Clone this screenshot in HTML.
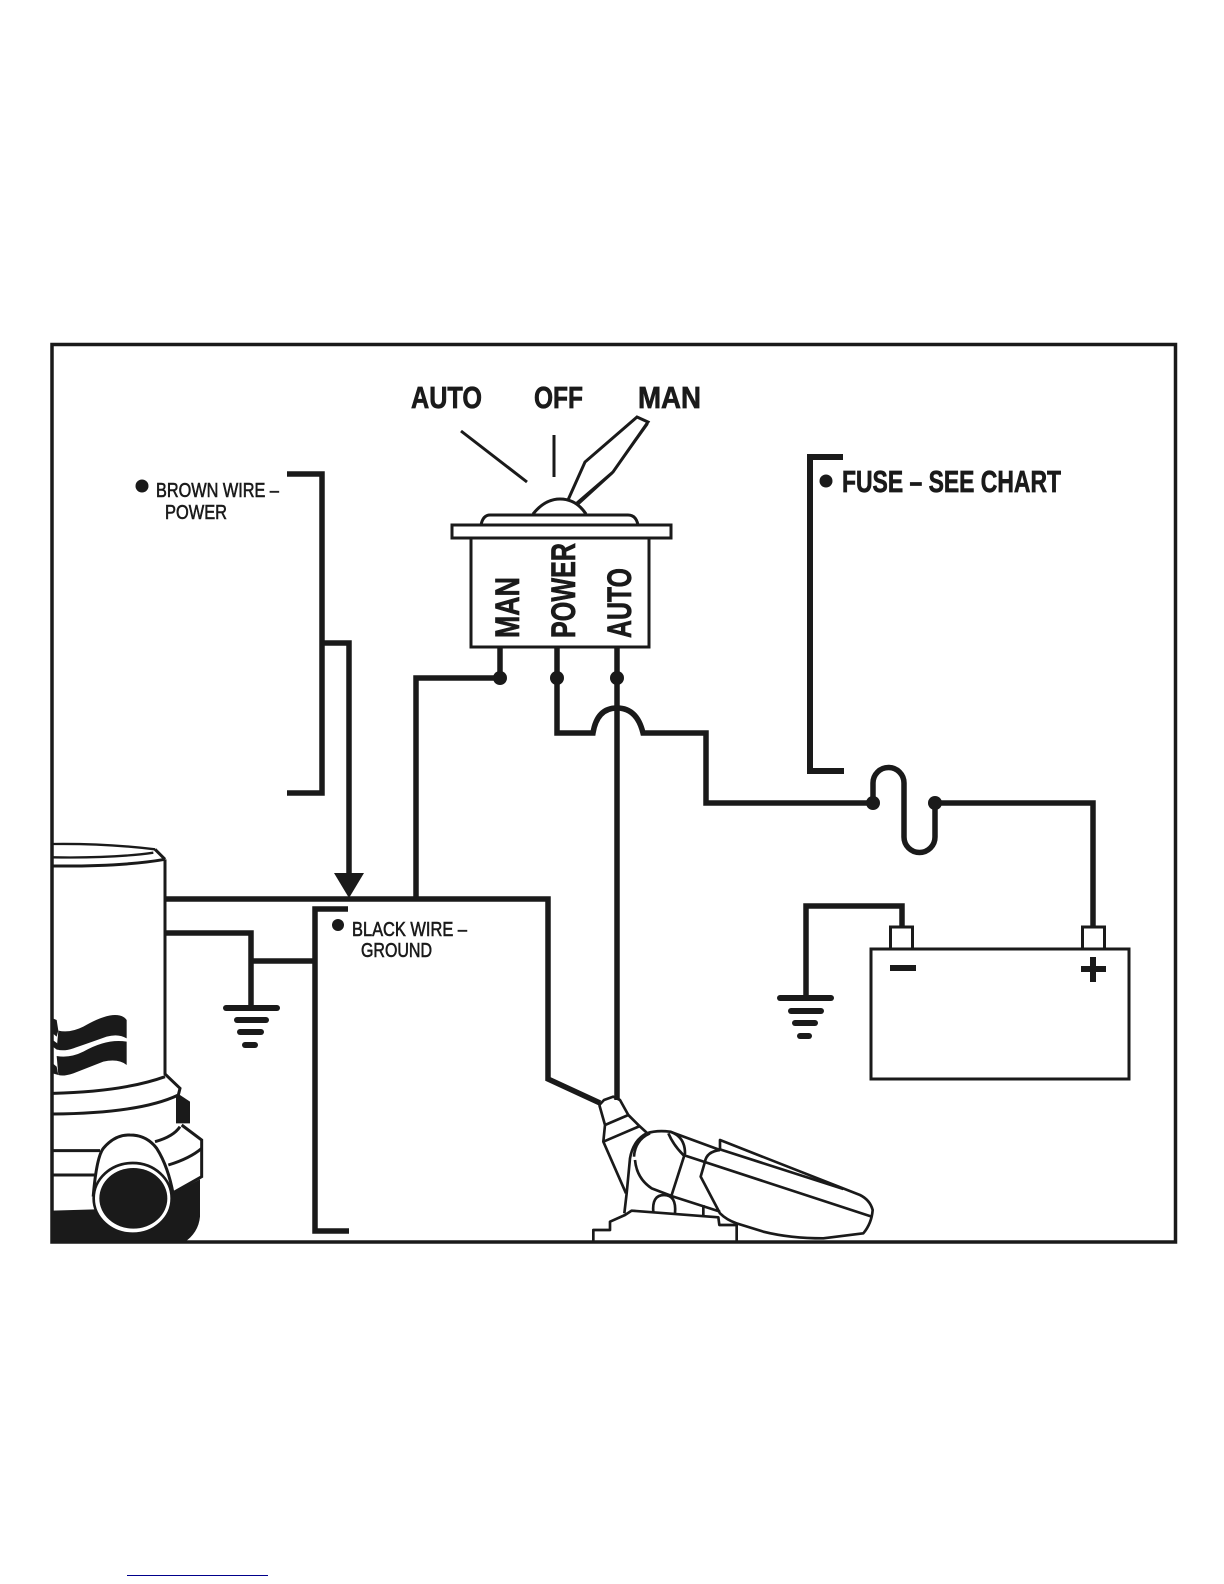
<!DOCTYPE html>
<html><head><meta charset="utf-8"><style>
html,body{margin:0;padding:0;background:#fff}
svg{display:block}
text{font-family:"Liberation Sans",sans-serif;fill:#1a1a1a}
.b{font-weight:bold;font-size:31px;stroke:#1a1a1a;stroke-width:.7}
.s{font-size:20px;stroke:#1a1a1a;stroke-width:.6}
.w{fill:none;stroke:#1a1a1a;stroke-width:5.500}
.t{fill:none;stroke:#1a1a1a;stroke-width:3}
.g{fill:none;stroke:#1a1a1a;stroke-width:6;stroke-linecap:round}
</style></head><body>
<svg width="1224" height="1584" viewBox="0 0 1224 1584" xmlns="http://www.w3.org/2000/svg">
<defs><clipPath id="fr"><rect x="52" y="345" width="1123" height="898"/></clipPath></defs>
<rect width="1224" height="1584" fill="#fff"/>

<!-- pump -->
<g clip-path="url(#fr)"><g transform="translate(40 820) scale(.33333)" fill="none" stroke="#1a1a1a" stroke-width="9">
<path d="M35,1172 L165,1168 L400,1120 L480,1078 L480,1190 Q475,1245 420,1275 L35,1275 Z" fill="#1a1a1a" stroke="none"/>
<path d="M38,72 Q200,70 345,88" stroke-width="7"/>
<path d="M38,112 Q220,115 340,98" stroke-width="7"/>
<path d="M345,88 L375,118"/>
<path d="M38,138 Q250,140 375,118"/>
<path d="M375,118 L375,762 L420,805 L415,825"/>
<path d="M38,820 Q250,815 375,770"/>
<path d="M38,882 Q300,880 415,825"/>
<path d="M408,825 L420,825 L450,845 L450,910 L408,910 Z" fill="#1a1a1a" stroke="none"/>
<path d="M425,915 L485,960 L485,1070 L400,1118"/>
<path d="M345,965 Q400,950 420,920"/>
<path d="M385,1035 Q450,1015 485,985"/>
<path d="M38,992 L180,992"/>
<path d="M38,1065 L165,1065"/>
<path d="M160,1125 Q170,1010 190,985 Q225,943 270,945 Q320,945 350,985 Q385,1040 400,1125 Z" fill="#fff"/>
<ellipse cx="278" cy="1135" rx="117" ry="106" fill="#fff" stroke-width="8"/>
<ellipse cx="280" cy="1135" rx="102" ry="91" fill="#1a1a1a" stroke="none"/>
<g fill="#1a1a1a" stroke="none">
<path d="M55,632 Q90,640 130,620 Q190,585 225,585 Q250,585 260,600 L260,655 Q235,640 200,650 Q130,675 100,685 Q70,695 50,688 Z"/>
<path d="M50,708 Q90,715 130,695 Q200,655 260,665 L260,735 Q235,715 190,725 L100,760 Q70,770 55,765 Z"/>
<path d="M38,595 L50,600 L55,632 L50,650 L38,640 Z"/>
<path d="M38,660 L52,670 L52,690 L38,680 Z"/>
<path d="M38,730 L50,740 L55,765 L38,760 Z"/>
</g>
</g></g>

<!-- frame -->
<rect x="52" y="344.500" width="1123.500" height="897.500" fill="none" stroke="#1a1a1a" stroke-width="3.500"/>

<!-- pump wires / ground -->
<path class="w" d="M165,899 H548 V1079 L600,1103"/>
<path class="w" d="M165,933 H251 V1008"/>
<path class="w" d="M253,961 H315"/>
<path class="g" d="M226,1008 H277"/>
<path class="g" d="M237,1020 H266"/>
<path class="g" d="M240,1032 H261"/>
<path class="g" d="M245,1045 H255"/>

<!-- brackets -->
<path class="w" d="M287,474 H322 V793 H287"/>
<path class="w" d="M322,643 H349 V875"/>
<polygon points="334,873 364,873 349,898" fill="#1a1a1a"/>
<path class="w" d="M348,909 H315 V1231 H349"/>
<path d="M843,457 H810 V771 H844" fill="none" stroke="#1a1a1a" stroke-width="6"/>

<!-- labels -->
<circle cx="142" cy="486" r="6.500" fill="#1a1a1a"/>
<text class="s" x="156" y="497" textLength="123" lengthAdjust="spacingAndGlyphs">BROWN WIRE –</text>
<text class="s" x="165" y="519" textLength="62" lengthAdjust="spacingAndGlyphs">POWER</text>
<circle cx="338" cy="925" r="6" fill="#1a1a1a"/>
<text class="s" x="352" y="936" textLength="115" lengthAdjust="spacingAndGlyphs">BLACK WIRE –</text>
<text class="s" x="361" y="957" textLength="71" lengthAdjust="spacingAndGlyphs">GROUND</text>
<circle cx="826" cy="481" r="6.500" fill="#1a1a1a"/>
<text class="b" x="842" y="492" textLength="219" lengthAdjust="spacingAndGlyphs">FUSE – SEE CHART</text>
<text class="b" x="411" y="408" textLength="71" lengthAdjust="spacingAndGlyphs">AUTO</text>
<text class="b" x="534" y="408" textLength="49" lengthAdjust="spacingAndGlyphs">OFF</text>
<text class="b" x="638" y="408" textLength="63" lengthAdjust="spacingAndGlyphs">MAN</text>

<!-- switch -->
<path class="t" d="M461,431 L527,482"/>
<path class="t" d="M554,435 V477"/>
<path class="t" d="M568,500 L585,462 L637,417 L648,422 L613,472 L577,503"/>
<path d="M648,424 L612,474 L578,505" fill="none" stroke="#1a1a1a" stroke-width="1.500"/>
<path class="t" d="M533,514 Q545,499 560,499 Q576,499 586,514"/>
<path class="t" d="M481,525 Q483,515 490,515 H628 Q636,515 638,525"/>
<rect x="452" y="525" width="219" height="13" fill="#fff" stroke="#1a1a1a" stroke-width="3"/>
<rect x="471" y="538" width="178" height="109" fill="none" stroke="#1a1a1a" stroke-width="3"/>
<text class="b" style="font-size:34px" transform="translate(519 638) rotate(-90)" textLength="61" lengthAdjust="spacingAndGlyphs">MAN</text>
<text class="b" style="font-size:34px" transform="translate(575 638) rotate(-90)" textLength="95" lengthAdjust="spacingAndGlyphs">POWER</text>
<text class="b" style="font-size:34px" transform="translate(631 638) rotate(-90)" textLength="70" lengthAdjust="spacingAndGlyphs">AUTO</text>

<!-- switch wires -->
<path class="w" d="M500,647 V678 H416 V899"/>
<path class="w" d="M617,647 V1100"/>
<path class="w" d="M557,647 V733 H593 Q597,708 617,708 Q637,708 643,733 H706 V803 H873"/>
<circle cx="500" cy="678" r="7" fill="#1a1a1a"/>
<circle cx="557" cy="678" r="7" fill="#1a1a1a"/>
<circle cx="617" cy="678" r="7" fill="#1a1a1a"/>

<!-- fuse -->
<path class="w" d="M873,803 V783 A15.500,15.500 0 0 1 904,783 V837 A15.500,15.500 0 0 0 935,837 V803 H1093 V927"/>
<circle cx="873" cy="803" r="7" fill="#1a1a1a"/>
<circle cx="935" cy="803" r="7" fill="#1a1a1a"/>

<!-- battery -->
<rect x="871" y="949" width="258" height="130" fill="none" stroke="#1a1a1a" stroke-width="3"/>
<rect x="890.500" y="927" width="22" height="22" fill="none" stroke="#1a1a1a" stroke-width="3"/>
<rect x="1082.500" y="927" width="22" height="22" fill="none" stroke="#1a1a1a" stroke-width="3"/>
<path d="M890,968 H916" stroke="#1a1a1a" stroke-width="6"/>
<path d="M1081,969 H1106 M1093,957 V982" stroke="#1a1a1a" stroke-width="6"/>
<path class="w" d="M902,927 V906 H806 V998"/>
<path class="g" d="M780,998 H831"/>
<path class="g" d="M791,1011 H821"/>
<path class="g" d="M795,1023 H815"/>
<path class="g" d="M800,1036 H809"/>

<!-- float switch -->
<g clip-path="url(#fr)"><g transform="translate(530 1050) scale(.33333)" fill="none" stroke="#1a1a1a" stroke-width="8" stroke-linejoin="round">
<path d="M208,165 L222,150 L250,140 L270,150 L295,195 L325,225 L350,248"/>
<path d="M208,165 L225,225 L220,275 L288,430"/>
<path d="M225,225 L295,195"/>
<path d="M220,275 L330,228"/>
<path d="M283,490 L290,430 L300,325 Q310,270 350,250"/>
<path d="M350,250 Q380,240 420,245 Q465,260 465,310 L425,435"/>
<path d="M312,320 Q315,270 360,250"/>
<path d="M315,330 Q320,385 365,415 L430,440 L570,485"/>
<path d="M415,250 Q430,285 460,315 L1025,500"/>
<path d="M420,245 L570,300"/>
<path d="M570,300 Q530,305 525,335 L512,380 L570,490 Q590,510 620,520 L700,545 Q780,565 880,565 L1000,550 Q1025,520 1028,480 Q1020,450 990,435 L570,270 L570,300"/>
<path d="M570,298 L940,417"/>
<path d="M370,488 Q365,435 402,435 Q440,435 435,490"/>
<path d="M190,580 L190,540 L240,540 L240,515 L285,495 L305,482 L565,502 L568,525 L620,525 L620,580"/>
<path d="M520,465 L520,500"/>
</g></g>

<!-- bottom link line -->
<rect x="127" y="1575" width="141" height="1" fill="#00008b"/>
</svg>
</body></html>
